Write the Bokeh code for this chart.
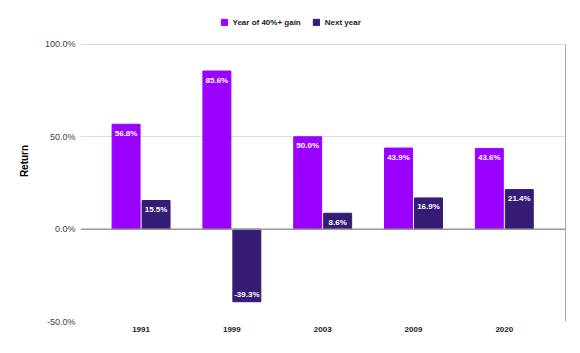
from bokeh.plotting import figure
from bokeh.models import (ColumnDataSource, Range1d, FixedTicker, Span, Legend,
                          LegendItem)
from bokeh.transform import dodge
from bokeh.core.properties import value
from bokeh.embed import file_html
from bokeh.resources import INLINE

# ---- data ----
years = ["1991", "1999", "2003", "2009", "2020"]
gain_year = [56.8, 85.6, 50.0, 43.9, 43.6]
next_year = [15.5, -39.3, 8.6, 16.9, 21.4]
series_names = ["Year of 40%+ gain", "Next year"]
y_ticks = [-50, 0, 50, 100]
y_tick_labels = ["-50.0%", "0.0%", "50.0%", "100.0%"]
y_title = "Return"

FONT = "Liberation Sans"
C1 = "#9900ff"
C2 = "#351c75"

idx = list(range(len(years)))


def make_src(vals):
    return ColumnDataSource(dict(
        x=idx,
        top=vals,
        lbl=[f"{v:.1f}%" for v in vals],
        off=[9 if v >= 0 else -7 for v in vals],
    ))


src1 = make_src(gain_year)
src2 = make_src(next_year)

X0, X1 = -0.667, 4.674
# frame reaches the top of the canvas so the legend can sit above the plot area
Y_TOP = y_ticks[-1] + 44 / 1.85
p = figure(width=580, height=353, output_backend="svg", toolbar_location=None,
           x_range=Range1d(X0, X1), y_range=Range1d(y_ticks[0], Y_TOP),
           min_border_left=80, min_border_right=15, min_border_top=0,
           min_border_bottom=32)
p.outline_line_color = None
p.background_fill_color = "white"
p.border_fill_color = "white"

OFF = 0.165
BW = 0.308
r1 = p.vbar(x=dodge("x", -OFF, range=p.x_range), top="top", bottom=0, width=BW,
            fill_color=C1, line_color=C1, source=src1)
r2 = p.vbar(x=dodge("x", OFF, range=p.x_range), top="top", bottom=0, width=BW,
            fill_color=C2, line_color=C2, source=src2)

for src, o in ((src1, -OFF), (src2, OFF)):
    p.text(x=dodge("x", o, range=p.x_range), y="top", text="lbl", y_offset="off",
           text_align="center", text_baseline="middle", text_color="white",
           text_font=value(FONT), text_font_style="bold", text_font_size="8px",
           source=src)

# zero baseline and right edge line
p.add_layout(Span(location=0, dimension="width", line_color="#999999", line_width=1.5))
p.segment(x0=[X1], y0=[y_ticks[0]], x1=[X1], y1=[y_ticks[-1]],
          line_color="#555555", line_width=1)

# grids
p.xgrid.grid_line_color = None
p.ygrid.ticker = FixedTicker(ticks=y_ticks)
p.ygrid.grid_line_color = "#dddddd"

# y axis
ya = p.yaxis[0]
ya.ticker = FixedTicker(ticks=y_ticks)
ya.major_label_overrides = {t: l for t, l in zip(y_ticks, y_tick_labels)}
ya.axis_line_color = None
ya.major_tick_line_color = None
ya.minor_tick_line_color = None
ya.major_tick_out = 0
ya.major_label_standoff = 5
ya.major_label_text_font = FONT
ya.major_label_text_font_size = "9px"
ya.major_label_text_color = "#444444"
ya.axis_label = y_title
ya.axis_label_text_font = FONT
ya.axis_label_text_font_style = "bold"
ya.axis_label_text_font_size = "10px"
ya.axis_label_text_color = "#000000"
ya.axis_label_standoff = 12

# x axis
xa = p.xaxis[0]
xa.ticker = FixedTicker(ticks=idx)
xa.major_label_overrides = {i: y for i, y in zip(idx, years)}
xa.axis_line_color = None
xa.major_tick_line_color = None
xa.minor_tick_line_color = None
xa.major_tick_out = 0
xa.major_label_standoff = 5
xa.major_label_text_font = FONT
xa.major_label_text_font_style = "bold"
xa.major_label_text_font_size = "8px"
xa.major_label_text_color = "#222222"

legend = Legend(items=[LegendItem(label=series_names[0], renderers=[r1]),
                       LegendItem(label=series_names[1], renderers=[r2])],
                location=(139.5, 294), orientation="horizontal",
                padding=0, margin=0, spacing=11, label_standoff=5,
                glyph_width=8, glyph_height=8, label_height=10,
                label_text_font=FONT, label_text_font_style="bold",
                label_text_font_size="8px", label_text_color="#222222",
                border_line_color=None, background_fill_alpha=0)
p.add_layout(legend)

open("out.html", "w").write(file_html(p, INLINE))
